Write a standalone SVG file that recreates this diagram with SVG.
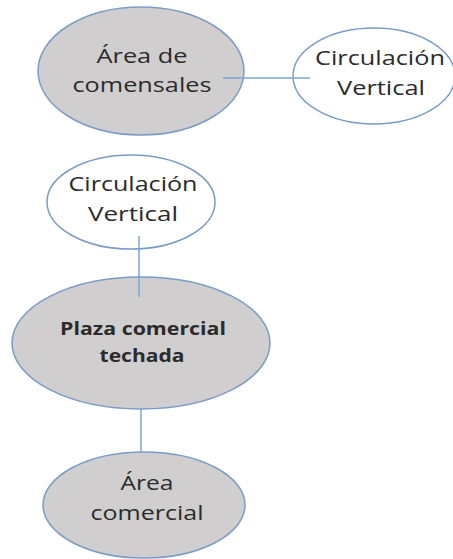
<svg xmlns="http://www.w3.org/2000/svg" width="453" height="559" viewBox="0 0 453 559">
<style>
.n{stroke:#7a9cc6;stroke-width:1.5}
.g{fill:#d0cece}
.w{fill:#ffffff}
.t{font-family:"Open Sans","Noto Sans","Liberation Sans",sans-serif;font-size:20px;fill:#2b2b2b;text-anchor:middle}
.b{font-weight:bold;font-size:17px}
.c{stroke:#7aa6d6;stroke-width:1.5;fill:none}
</style>
<rect width="453" height="559" fill="#ffffff"/>
<g id="area-comensales">
<ellipse class="n g" cx="141" cy="71" rx="103" ry="64"/>
<text class="t" x="142" y="63" textLength="91" lengthAdjust="spacingAndGlyphs">Área de</text>
<text class="t" x="142" y="92" textLength="139" lengthAdjust="spacingAndGlyphs">comensales</text>
</g>
<g id="circulacion-vertical-1">
<ellipse class="n w" cx="374" cy="76" rx="81" ry="48"/>
<text class="t" x="380" y="65" textLength="130" lengthAdjust="spacingAndGlyphs">Circulación</text>
<text class="t" x="381" y="95" textLength="88" lengthAdjust="spacingAndGlyphs">Vertical</text>
</g>
<g id="circulacion-vertical-2">
<ellipse class="n w" cx="131" cy="202" rx="84" ry="47"/>
<text class="t" x="133" y="191" textLength="129" lengthAdjust="spacingAndGlyphs">Circulación</text>
<text class="t" x="133" y="221" textLength="90" lengthAdjust="spacingAndGlyphs">Vertical</text>
</g>
<g id="plaza-comercial-techada">
<ellipse class="n g" cx="141" cy="343" rx="129" ry="66"/>
<text class="t b" x="143" y="335" textLength="166" lengthAdjust="spacingAndGlyphs">Plaza comercial</text>
<text class="t b" x="142" y="362" textLength="85" lengthAdjust="spacingAndGlyphs">techada</text>
</g>
<g id="area-comercial">
<ellipse class="n g" cx="144" cy="505" rx="101" ry="53"/>
<text class="t" x="147" y="490" textLength="53" lengthAdjust="spacingAndGlyphs">Área</text>
<text class="t" x="147" y="520" textLength="113" lengthAdjust="spacingAndGlyphs">comercial</text>
</g>
<g id="connectors">
<line class="c" x1="223" y1="78" x2="310" y2="78"/>
<line class="c" x1="139" y1="236" x2="139" y2="297"/>
<line class="c" x1="141" y1="409" x2="141" y2="452"/>
</g>
</svg>
